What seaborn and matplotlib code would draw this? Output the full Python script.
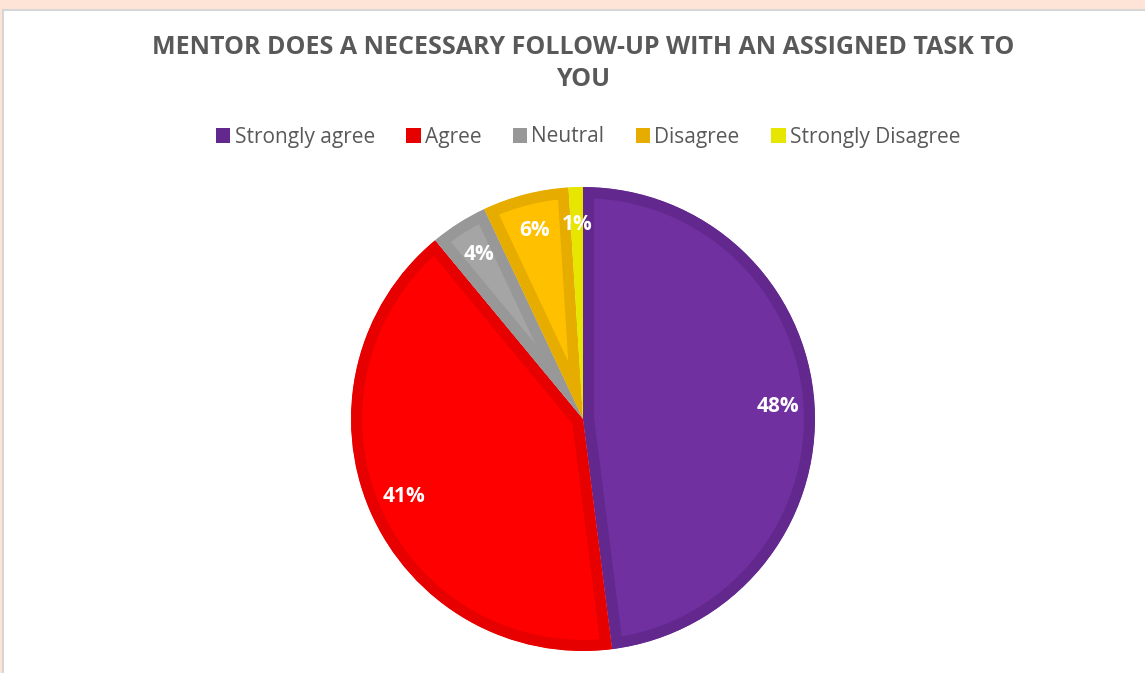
import matplotlib
matplotlib.use("Agg")
import matplotlib.pyplot as plt
import matplotlib.patches as mpatches
import seaborn as sns

categorias = ['Strongly agree', 'Agree', 'Neutral', 'Disagree', 'Strongly Disagree']
porcentajes = [48, 41, 4, 6, 1]
etiquetas = ['48%', '41%', '4%', '6%', '1%']
colores_relleno = ['#7030A0', '#FF0000', '#A5A5A5', '#FFC000', '#E6E600']
colores_borde = ['#63288E', '#E60000', '#989898', '#E6AC00', '#E6E600']

sns.set_theme(style="white")
plt.rcParams['font.family'] = ['Open Sans', 'DejaVu Sans']

fig = plt.figure(figsize=(11.45, 6.73), dpi=100)
fig.patch.set_facecolor('#FDE4D7')

# marco blanco del area del grafico
marco = mpatches.Rectangle((3 / 1145, -0.1), 1.2, (673 - 10) / 673 + 0.1,
                           transform=fig.transFigure, facecolor='white',
                           edgecolor='#D6D6D6', linewidth=1.5, zorder=-5)
fig.patches.append(marco)

# ejes de la torta: centro (583, 419), radio 232 px
ax = fig.add_axes([(583 - 232) / 1145, (673 - 419 - 232) / 673, 464 / 1145, 464 / 673])
ax.set_facecolor('none')
ax.set_zorder(2)

cunas, textos = ax.pie(porcentajes, colors=colores_relleno, startangle=90,
                       counterclock=False, labels=etiquetas, labeldistance=0.84,
                       textprops=dict(color='white', fontsize=15, fontweight='bold',
                                      ha='center', va='center'))
for cuna, borde in zip(cunas, colores_borde):
    cuna.set_edgecolor(borde)
    cuna.set_linewidth(16)
    cuna.set_joinstyle('round')
    cuna.set_clip_on(True)
    cuna.set_clip_path(cuna)
ax.set_xlim(-1, 1)
ax.set_ylim(-1, 1)
ax.set_aspect('equal')
ax.axis('off')

fig.text(583 / 1145, 1 - 47 / 673, 'MENTOR DOES A NECESSARY FOLLOW-UP WITH AN ASSIGNED TASK TO',
         ha='center', va='center', fontsize=18, fontweight='bold', color='#595959')
fig.text(583 / 1145, 1 - 79 / 673, 'YOU',
         ha='center', va='center', fontsize=18, fontweight='bold', color='#595959')

manijas = [mpatches.Patch(facecolor=c, edgecolor='none') for c in colores_borde]
fig.legend(manijas, categorias, loc='center', bbox_to_anchor=(588 / 1145, 1 - 137 / 673),
           ncol=5, frameon=False, handlelength=0.7, handleheight=0.7,
           handletextpad=0.2, columnspacing=1.5,
           prop=dict(size=15), labelcolor='#595959')

fig.savefig('out.png', dpi=100, facecolor=fig.get_facecolor())
